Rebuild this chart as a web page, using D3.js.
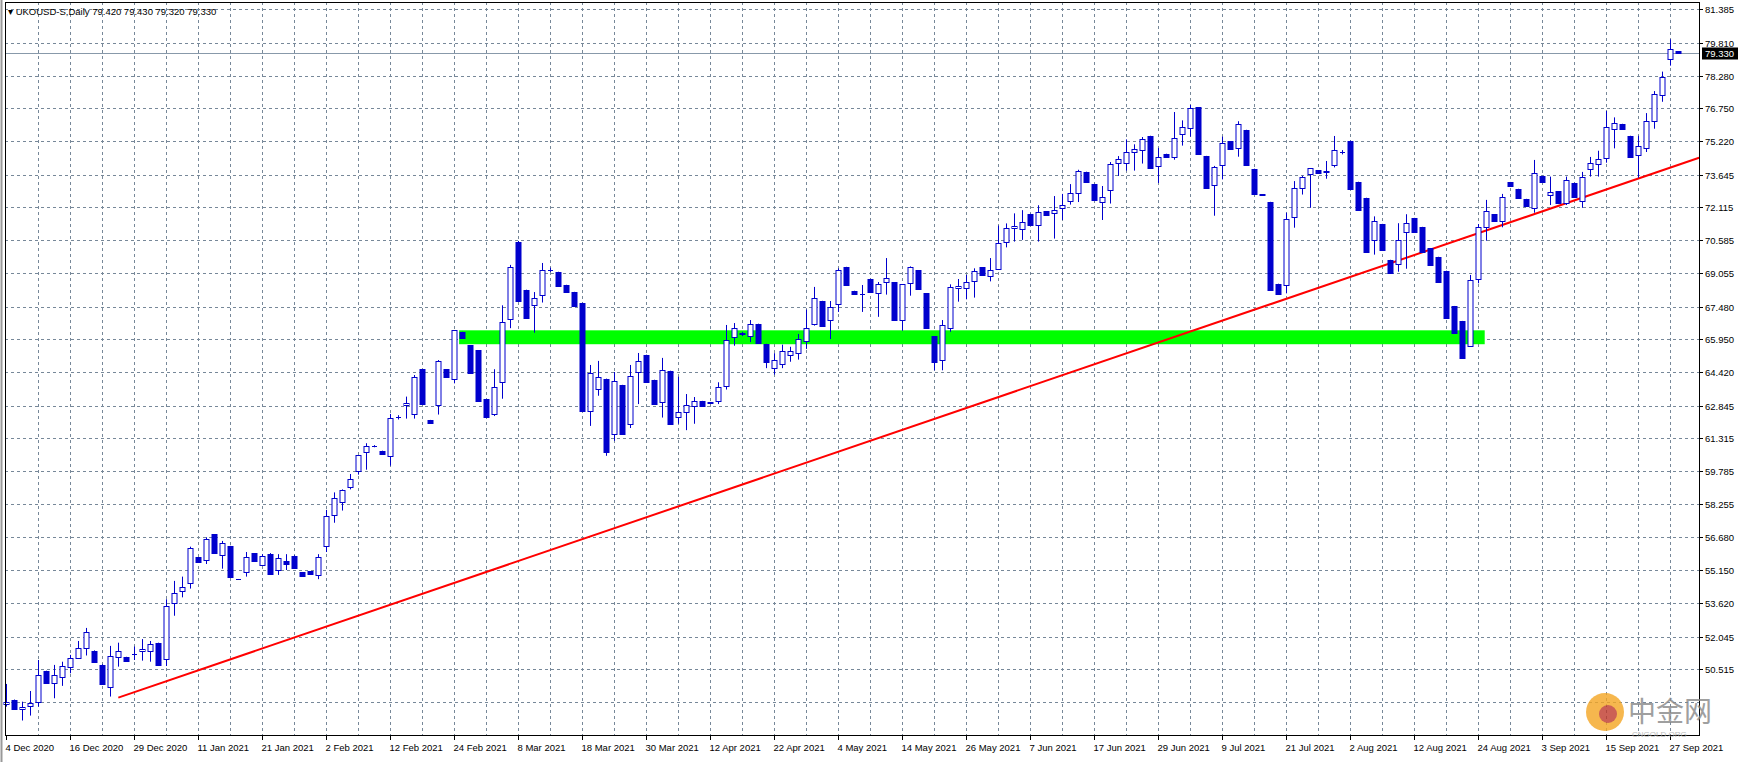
<!DOCTYPE html>
<html><head><meta charset="utf-8">
<script src="https://cdn.jsdelivr.net/npm/d3@7"></script>
<style>body{margin:0;background:#fff}svg{display:block;font-family:"Liberation Sans",Arial,sans-serif}</style>
</head><body><svg id="c" width="1743" height="762"></svg>
<script>
const open=[48.88,49.08,48.65,48.80,49.00,50.44,49.89,50.17,50.61,51.06,51.50,51.37,50.72,49.67,51.11,51.09,51.23,51.39,51.39,51.75,51.02,53.63,54.19,54.54,55.75,55.63,56.83,55.85,56.28,54.73,55.05,55.94,55.40,55.90,55.16,55.60,55.80,55.05,55.10,54.93,56.30,57.72,58.33,59.03,59.78,60.66,60.95,60.73,60.51,62.30,62.86,62.44,64.55,62.17,62.86,64.55,64.08,66.29,65.67,65.43,63.14,62.44,63.94,66.89,70.50,68.26,67.54,68.01,69.20,69.10,68.49,68.16,67.65,62.61,63.61,64.10,61.50,63.81,62.00,64.41,65.22,64.05,63.00,64.47,62.30,62.54,62.81,63.06,63.00,63.05,63.77,66.06,66.20,66.09,66.67,65.73,64.60,64.80,65.20,65.30,65.89,66.65,67.74,66.84,67.59,69.33,68.21,68.07,68.77,68.10,68.62,68.62,66.87,68.57,69.18,68.10,66.09,65.00,66.46,68.35,68.33,68.66,69.32,68.90,69.25,70.49,71.14,71.09,71.81,71.28,71.94,71.84,72.08,72.40,72.78,73.78,73.21,72.39,72.92,74.18,74.18,74.69,74.79,75.46,74.04,74.62,74.46,75.54,75.82,76.80,74.52,73.15,74.09,75.21,74.88,75.74,73.92,72.73,72.37,68.54,68.48,71.66,73.01,73.68,73.85,73.78,74.09,74.70,75.23,73.31,72.56,70.58,71.34,69.66,69.46,70.95,71.62,71.20,70.20,69.80,69.15,67.50,66.80,65.65,68.75,71.19,71.80,71.47,73.30,72.98,72.51,72.08,73.59,72.68,72.87,72.31,73.26,72.40,73.92,74.13,74.41,75.77,76.02,75.46,74.55,74.88,76.14,77.39,79.05,79.42];
const high=[49.83,49.10,49.00,49.50,50.95,50.45,50.72,50.87,51.19,51.84,52.45,51.40,50.75,51.61,51.76,51.10,51.58,51.93,51.84,51.76,53.79,54.65,54.85,56.25,55.76,56.69,56.84,56.52,56.29,54.74,56.00,55.95,55.90,55.95,55.90,55.90,55.85,55.06,55.11,55.90,57.97,58.79,58.93,59.65,60.52,61.09,61.00,60.74,62.46,62.40,63.27,64.28,64.56,62.18,64.98,64.56,66.37,66.30,65.68,65.44,63.15,64.55,67.54,69.43,70.55,68.27,68.16,69.52,69.30,69.11,68.50,68.17,67.66,64.75,64.94,64.11,64.42,63.82,64.75,65.31,65.23,64.06,65.08,64.48,64.20,63.39,63.25,63.07,63.01,63.94,66.62,66.71,66.30,66.85,66.68,65.74,65.30,65.70,65.60,66.20,67.34,68.40,67.75,67.74,69.27,69.34,68.22,68.49,68.78,68.63,69.75,68.63,68.52,69.36,69.19,68.11,66.10,66.85,68.52,68.77,68.96,69.27,69.33,69.75,71.27,71.37,71.84,71.99,71.82,72.22,71.95,72.65,72.75,73.21,73.88,73.79,73.22,73.12,74.24,74.52,75.30,75.07,75.41,75.47,74.90,74.63,76.58,76.19,76.91,76.81,74.53,74.06,75.43,75.22,76.15,75.75,73.93,72.74,72.38,68.55,71.87,73.35,73.60,73.95,73.86,74.29,75.46,74.80,75.24,73.32,72.57,71.70,71.35,69.67,71.38,71.80,71.63,71.21,70.21,69.81,69.16,67.51,66.81,68.96,71.34,72.47,71.81,72.75,73.31,72.99,72.52,74.34,73.60,73.56,72.88,73.56,73.27,73.78,74.48,74.77,76.63,76.33,76.03,75.47,75.47,76.53,77.56,78.47,79.98,79.43];
const low=[48.77,48.62,48.12,48.35,48.77,49.88,49.16,49.74,50.33,51.05,51.16,50.85,49.80,49.24,50.64,50.92,50.95,50.92,50.87,50.72,50.67,53.02,53.88,54.29,55.55,55.44,55.97,55.22,54.82,54.72,54.85,55.60,55.35,54.96,54.93,55.16,55.24,54.90,54.96,54.73,56.00,57.37,57.94,58.93,59.62,59.85,60.90,60.60,60.04,62.20,62.24,62.24,62.94,62.02,62.43,64.17,63.89,66.01,64.36,63.08,62.30,62.36,63.17,66.47,67.76,66.96,66.26,67.67,69.10,68.46,68.16,67.51,62.61,61.90,63.31,60.50,61.20,61.50,61.80,62.92,63.97,62.94,62.29,62.00,62.00,61.70,62.00,62.81,62.95,62.92,63.60,65.65,66.10,65.82,65.76,64.60,64.30,64.60,64.90,65.00,65.50,66.59,66.59,65.96,67.23,68.49,68.08,67.23,68.18,67.00,68.04,66.87,66.35,67.99,68.32,66.49,64.50,64.50,66.30,67.71,67.82,67.90,68.94,68.66,69.25,70.25,70.52,70.60,71.31,70.52,71.78,70.66,71.53,72.25,72.37,73.32,72.48,71.53,72.30,73.59,73.84,73.84,74.17,73.98,73.26,74.49,74.35,75.01,75.43,74.63,73.04,71.73,73.43,74.87,74.49,74.10,72.76,72.72,68.27,68.09,68.10,71.17,72.72,72.10,73.74,73.46,73.99,74.60,73.00,72.02,70.05,69.91,70.14,69.07,69.11,69.25,70.95,70.05,69.44,68.65,66.96,66.23,65.09,65.60,68.57,70.56,71.50,71.19,73.14,72.57,72.20,71.87,73.32,72.23,72.34,72.23,72.62,72.10,73.56,73.56,74.21,74.88,75.77,74.46,73.51,74.71,75.80,77.06,78.75,79.32];
const close=[48.97,48.65,48.75,48.93,50.23,49.89,50.23,50.66,51.03,51.50,52.25,50.87,49.83,51.12,51.37,50.92,51.24,51.45,51.69,50.72,53.48,54.07,54.37,56.17,55.55,56.60,55.97,56.41,54.82,54.73,55.75,55.60,55.80,54.96,55.70,55.45,55.24,54.90,54.96,55.75,57.67,58.51,58.89,59.40,60.52,60.95,60.95,60.60,62.25,62.30,62.96,64.17,62.94,62.02,64.92,64.17,66.37,66.01,64.36,63.08,62.30,63.70,66.75,69.32,67.76,66.96,67.87,69.18,69.20,68.46,68.16,67.51,62.61,64.36,64.17,60.70,63.98,61.50,64.22,64.92,63.97,62.94,64.50,62.00,62.54,62.86,63.05,62.81,62.95,63.70,65.92,66.46,66.25,66.65,65.76,64.90,65.00,65.40,65.40,65.95,66.46,67.87,66.59,67.45,69.17,68.49,68.08,68.05,68.18,68.52,68.80,66.87,68.52,69.32,68.32,66.49,64.90,66.60,68.38,68.43,68.62,69.13,68.94,69.18,70.44,71.14,71.25,71.42,71.31,71.89,71.78,71.99,72.22,72.78,73.82,73.32,72.48,72.59,74.14,74.37,74.69,74.84,75.30,73.98,74.49,74.49,75.35,75.86,76.75,74.63,73.04,73.99,75.12,74.87,76.00,74.10,72.76,72.72,68.27,68.09,71.56,73.01,73.53,73.95,73.74,73.80,74.79,74.70,73.00,72.02,70.05,71.47,70.14,69.07,70.58,71.38,70.95,70.05,69.44,68.65,66.96,66.23,65.09,68.71,71.19,71.94,71.50,72.59,73.14,72.57,72.20,73.71,73.32,72.82,72.34,73.39,72.62,73.52,74.18,74.37,75.87,76.05,75.77,74.46,74.99,76.18,77.44,78.20,79.51,79.33];
const priceTicks=[81.385,79.810,78.280,76.750,75.220,73.645,72.115,70.585,69.055,67.480,65.950,64.420,62.845,61.315,59.785,58.255,56.680,55.150,53.620,52.045,50.515];
const gridOnly=[48.985];
const dateLabels=["4 Dec 2020","16 Dec 2020","29 Dec 2020","11 Jan 2021","21 Jan 2021","2 Feb 2021","12 Feb 2021","24 Feb 2021","8 Mar 2021","18 Mar 2021","30 Mar 2021","12 Apr 2021","22 Apr 2021","4 May 2021","14 May 2021","26 May 2021","7 Jun 2021","17 Jun 2021","29 Jun 2021","9 Jul 2021","21 Jul 2021","2 Aug 2021","12 Aug 2021","24 Aug 2021","3 Sep 2021","15 Sep 2021","27 Sep 2021"];
const zone={from:56.6,to:184.8,top:66.37,bottom:65.72};
const trend={i0:14,p0:49.19,i1:211.6,p1:74.44};
const lastPrice=79.33;

const svg=d3.select("#c");
const L=5,R=1699,T=2,B=735;
const x=d3.scaleLinear().domain([0,209]).range([6.3,6.3+8*209]);
const y=d3.scaleLinear().domain([81.385,50.515]).range([9.3,669.3]);
const gc="#778899";
const g=svg.append("g");
[...priceTicks,...gridOnly].forEach(p=>{const yy=Math.round(y(p))+0.5;
 g.append("line").attr("x1",L).attr("x2",R).attr("y1",yy).attr("y2",yy).attr("stroke",gc).attr("stroke-dasharray","3,3");});
for(let i=4;i<=212;i+=4){const xx=Math.round(x(i))+0.5; if(xx>=R)break;
 g.append("line").attr("x1",xx).attr("x2",xx).attr("y1",T).attr("y2",B).attr("stroke",gc).attr("stroke-dasharray","3,3");}
g.append("rect").attr("x",x(zone.from)).attr("width",x(zone.to)-x(zone.from)).attr("y",y(zone.top)).attr("height",y(zone.bottom)-y(zone.top)).attr("fill","#00ff00");
g.append("line").attr("x1",x(trend.i0)).attr("y1",y(trend.p0)).attr("x2",x(trend.i1)).attr("y2",y(trend.p1)).attr("stroke","#ff0000").attr("stroke-width",2);
const ly=Math.round(y(lastPrice))+0.5;
g.append("line").attr("x1",L).attr("x2",R).attr("y1",ly).attr("y2",ly).attr("stroke","#8899aa");
const blue="#0000cd";
open.forEach((o,i)=>{const c=close[i],xx=Math.round(x(i))+0.5;
 g.append("line").attr("x1",xx).attr("x2",xx).attr("y1",y(high[i])).attr("y2",y(low[i])).attr("stroke",blue);
 const t=Math.round(y(Math.max(o,c)))+0.5,b=Math.round(y(Math.min(o,c)))+0.5;
 if(b-t<1){g.append("line").attr("x1",xx-2.5).attr("x2",xx+2.5).attr("y1",t).attr("y2",t).attr("stroke",blue);}
 else g.append("rect").attr("x",xx-2.5).attr("width",5).attr("y",t).attr("height",b-t).attr("fill",c>=o?"#fff":blue).attr("stroke",blue);
});
svg.append("rect").attr("x",L+0.5).attr("y",T+0.5).attr("width",R-L).attr("height",B-T).attr("fill","none").attr("stroke","#000");
svg.append("line").attr("x1",1.5).attr("x2",1.5).attr("y1",0).attr("y2",762).attr("stroke","#999").attr("stroke-width",2);
priceTicks.forEach(p=>{const yy=Math.round(y(p))+0.5;
 svg.append("line").attr("x1",R).attr("x2",R+4).attr("y1",yy).attr("y2",yy).attr("stroke","#000");
 svg.append("text").attr("x",1705).attr("y",yy+3.5).attr("font-size",9.5).text(p.toFixed(3));});
svg.append("rect").attr("x",1702).attr("y",ly-6).attr("width",36).attr("height",12).attr("fill","#000");
svg.append("text").attr("x",1705).attr("y",ly+3.5).attr("font-size",9.5).attr("fill","#fff").text(lastPrice.toFixed(3));
dateLabels.forEach((d,k)=>{const xx=Math.round(x(k*8))+0.5;
 svg.append("line").attr("x1",xx).attr("x2",xx).attr("y1",B).attr("y2",B+5).attr("stroke","#000");
 svg.append("text").attr("x",xx-1).attr("y",751).attr("font-size",9.5).text(d);});
svg.append("text").attr("x",8).attr("y",15).attr("font-size",9.5).text("▾ UKOUSD-S,Daily  79.420 79.430 79.320 79.330");
const wm=svg.append("g").attr("opacity",0.8);
wm.append("circle").attr("cx",1605).attr("cy",712).attr("r",19).attr("fill","#f5a623");
wm.append("circle").attr("cx",1608).attr("cy",714).attr("r",9).attr("fill","#c0392b");
wm.append("text").attr("x",1628).attr("y",722).attr("font-size",28).attr("fill","#888").attr("font-family","Noto Sans CJK SC").text("中金网");
wm.append("text").attr("x",1632).attr("y",737).attr("font-size",8).attr("fill","#aaa").text("CNGOLD.ORG");
</script></body></html>
